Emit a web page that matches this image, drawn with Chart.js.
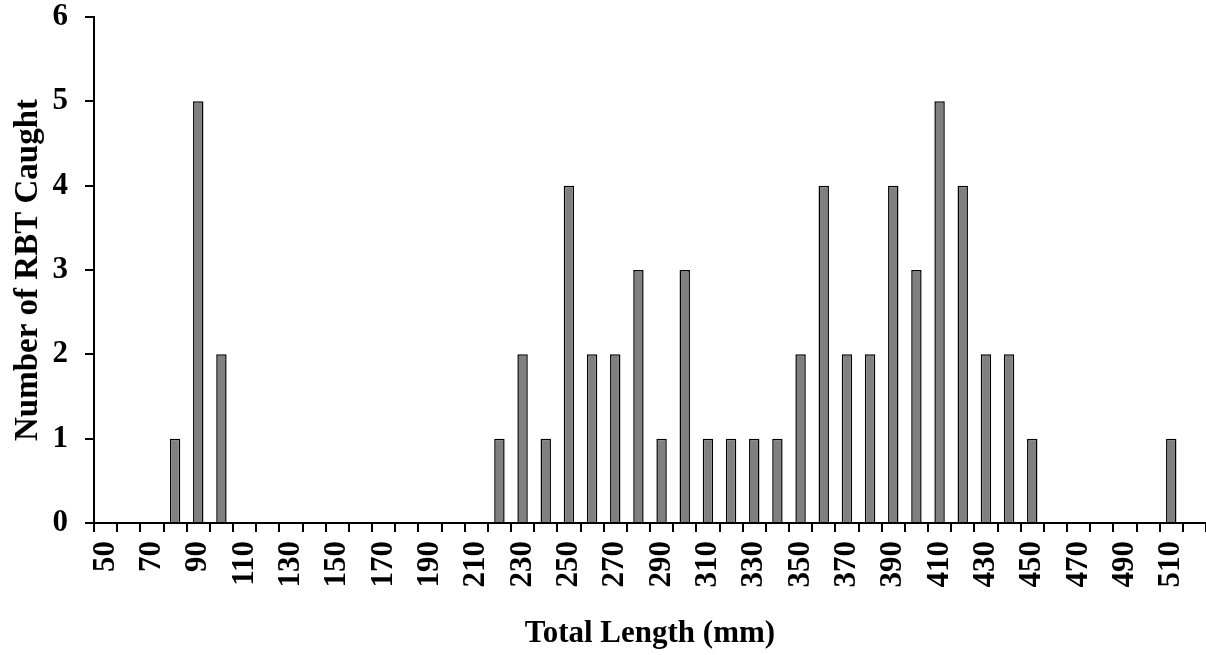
<!DOCTYPE html>
<html>
<head>
<meta charset="utf-8">
<script src="https://cdn.jsdelivr.net/npm/chart.js@4"></script>
<style>
  html, body { margin: 0; padding: 0; background: #fff; }
  #wrap { width: 1206px; height: 655px; }
</style>
</head>
<body>
<div id="wrap"><canvas id="lenChart" width="1206" height="655"></canvas></div>
<script>
// length classes (mm) and fish counts
const lengths = [50,60,70,80,90,100,110,120,130,140,150,160,170,180,190,200,210,220,230,240,
  250,260,270,280,290,300,310,320,330,340,350,360,370,380,390,400,410,420,430,440,450,
  460,470,480,490,500,510,520];
const counts = [0,0,0,1,5,2,0,0,0,0,0,0,0,0,0,0,0,1,2,1,
  4,2,2,3,1,3,1,1,1,1,2,4,2,2,4,3,5,4,2,2,1,
  0,0,0,0,0,1,0];
const yTicks = [0,1,2,3,4,5,6];

const serif = '"Liberation Serif", "Times New Roman", serif';

new Chart(document.getElementById('lenChart'), {
  type: 'bar',
  data: {
    labels: lengths.map(String),
    datasets: [{
      label: 'RBT',
      data: counts,
      backgroundColor: '#808080',
      borderColor: '#000',
      borderWidth: 1.5,
      barPercentage: 0.45,
      categoryPercentage: 1
    }]
  },
  options: {
    responsive: false,
    animation: false,
    layout: { padding: 0 },
    plugins: { legend: { display: false }, tooltip: { enabled: false } },
    scales: {
      x: {
        offset: true,
        border: { display: true, color: '#000', width: 2 },
        grid: { offset: true, drawOnChartArea: false, drawTicks: true, tickLength: 9, color: '#000', lineWidth: 2 },
        ticks: {
          autoSkip: false, maxRotation: 90, minRotation: 90, padding: 9,
          color: '#000', font: { family: serif, size: 31, weight: 'bold' },
          callback: (v, i) => (i % 2 === 0 ? lengths[i] : '')
        },
        title: {
          display: true, text: 'Total Length (mm)', color: '#000',
          font: { family: serif, size: 31, weight: 'bold' },
          padding: { top: 20, bottom: 2 }
        },
        afterFit: (s) => { s.height = 132; s.paddingLeft = 0; s.paddingRight = 0; }
      },
      y: {
        min: 0, max: 6,
        border: { display: true, color: '#000', width: 2 },
        grid: { drawOnChartArea: false, drawTicks: true, tickLength: 9, color: '#000', lineWidth: 2 },
        afterBuildTicks: (s) => { s.ticks = yTicks.map(v => ({ value: v })); },
        ticks: {
          padding: 17, color: '#000',
          font: { family: serif, size: 31, weight: 'bold' }
        },
        title: {
          display: true, text: 'Number of RBT Caught', color: '#000',
          font: { family: serif, size: 33, weight: 'bold' },
          padding: { top: 9, bottom: 4 }
        },
        afterFit: (s) => { s.width = 94; s.paddingTop = 17; s.paddingBottom = 0; }
      }
    }
  }
});
</script>
</body>
</html>
